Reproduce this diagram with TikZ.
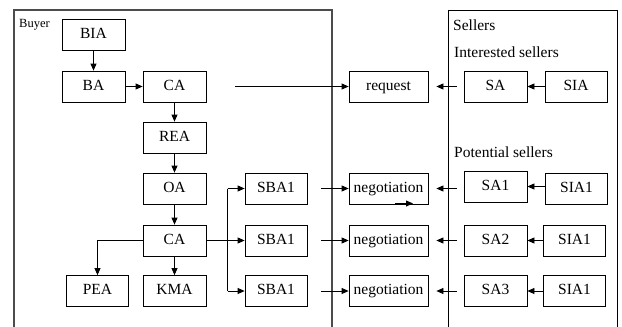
\documentclass[tikz,border=0pt]{standalone}
\usepackage{fontspec}
\setmainfont{Liberation Serif}
\usetikzlibrary{arrows.meta}
\begin{document}
\begin{tikzpicture}[x=1pt,y=-1pt,
  box/.style={draw,line width=0.8pt,minimum height=31pt,inner sep=0pt,text height=10.5pt,text depth=3pt,font=\fontsize{15.5}{18}\selectfont},
  bw/.style={box,minimum width=63pt},
  nw/.style={box,minimum width=79pt},
  lbl/.style={anchor=west,inner sep=0pt,font=\fontsize{15.5}{18}\selectfont},
  arr/.style={line width=0.8pt,-{Triangle[length=7pt,width=6pt]}},
  ln/.style={line width=0.8pt}]
\useasboundingbox (0,0) rectangle (622,327);
% frames
\draw[line width=1.3pt,black!70] (14,327) -- (14,10) -- (332,10) -- (332,327);
\draw[line width=0.8pt] (448,327) -- (448,10) -- (617,10) -- (617,327);
\node[anchor=west,inner sep=0pt,font=\fontsize{12.5}{14}\selectfont] (buyer) at (19,25) {Buyer};
\node[lbl] (sellers) at (453,25) {Sellers};
\node[lbl] (interested) at (454,52) {Interested sellers};
\node[lbl] (potential) at (454,152) {Potential sellers};
% buyer nodes
\node[bw] (BIA) at (93.5,35) {BIA};
\node[bw] (BA) at (93.5,86.5) {BA};
\node[bw] (CA) at (174.5,86.5) {CA};
\node[bw] (REA) at (174.5,137.5) {REA};
\node[bw] (OA) at (174.5,188.5) {OA};
\node[bw] (CB) at (174.5,240.5) {CA};
\node[bw,minimum width=62pt] (PEA) at (97.5,291) {PEA};
\node[bw] (KMA) at (174.5,291) {KMA};
\node[bw,minimum width=62pt] (SBa) at (276,188.5) {SBA1};
\node[bw,minimum width=62pt] (SBb) at (276,240.5) {SBA1};
\node[bw,minimum width=62pt] (SBc) at (276,291) {SBA1};
% middle
\node[nw] (req) at (388.5,86.5) {request};
\node[nw] (nega) at (388.5,188.5) {negotiation};
\node[nw] (negb) at (388.5,240.5) {negotiation};
\node[nw] (negc) at (388.5,291) {negotiation};
% sellers
\node[bw] (SA) at (495.5,86.5) {SA};
\node[bw,minimum width=62pt] (SIA) at (576,86.5) {SIA};
\node[bw] (SAa) at (495.5,186.5) {SA1};
\node[bw,minimum width=62pt] (SIAa) at (576.5,188.5) {SIA1};
\node[bw] (SAb) at (495.5,240.5) {SA2};
\node[bw,minimum width=62pt] (SIAb) at (574.5,240.5) {SIA1};
\node[bw] (SAc) at (495.5,291) {SA3};
\node[bw,minimum width=62pt] (SIAc) at (574.5,291) {SIA1};
% coordinates
\coordinate (rq) at (235,86.5);
\coordinate (na) at (321,188.5);
\coordinate (nb) at (321,240.5);
\coordinate (nc) at (321,291);
\coordinate (br) at (227.5,240.5);
\coordinate (bra) at (227.5,188.5);
\coordinate (brc) at (227.5,291);
\coordinate (pl) at (97.5,240.5);
\coordinate (sx1) at (395,203.5);
\coordinate (sx2) at (413,203.5);
% buyer arrows
\draw[arr] (BIA) -- (BA);
\draw[arr] (BA) -- (CA);
\draw[arr] (CA) -- (REA);
\draw[arr] (REA) -- (OA);
\draw[arr] (OA) -- (CB);
\draw[arr] (CB) -- (KMA);
\draw[arr] (CB.west) -- (pl) -- (PEA.north);
\draw[ln] (CB.east) -- (br);
\draw[ln] (bra) -- (brc);
\draw[arr] (bra) -- (SBa.west);
\draw[arr] (br) -- (SBb.west);
\draw[arr] (brc) -- (SBc.west);
% to middle
\draw[arr] (rq) -- (req.west);
\draw[arr] (na) -- (nega.west);
\draw[arr] (nb) -- (negb.west);
\draw[arr] (nc) -- (negc.west);
\draw[arr] (sx1) -- (sx2);
% sellers arrows
\draw[arr,shorten <=7pt,shorten >=8pt] (SA.west) -- (req.east);
\draw[arr,shorten <=7pt,shorten >=8pt] (SAa.west |- nega.east) -- (nega.east);
\draw[arr,shorten <=7pt,shorten >=8pt] (SAb.west) -- (negb.east);
\draw[arr,shorten <=7pt,shorten >=8pt] (SAc.west) -- (negc.east);
\draw[arr] (SIA) -- (SA);
\draw[arr] (SIAa.west |- SAa.east) -- (SAa.east);
\draw[arr] (SIAb) -- (SAb);
\draw[arr] (SIAc) -- (SAc);
\end{tikzpicture}
\end{document}
